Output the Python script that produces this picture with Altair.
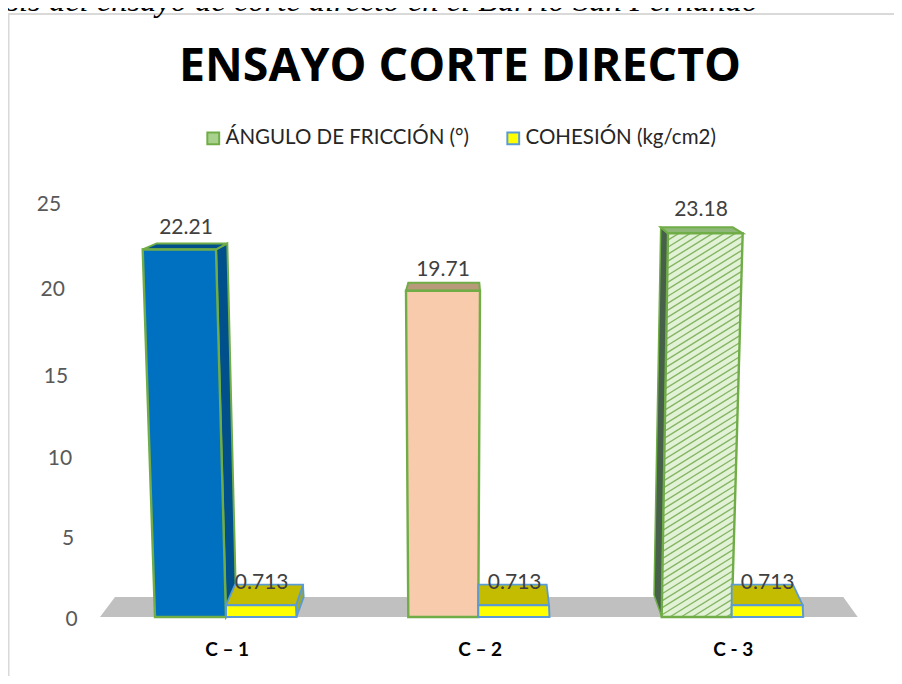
import altair as alt
import pandas as pd

# ---- chart values ----
categories = ["C – 1", "C – 2", "C - 3"]
friccion = [22.21, 19.71, 23.18]
cohesion = [0.713, 0.713, 0.713]
series = ["ÁNGULO DE FRICCIÓN (°)", "COHESIÓN (kg/cm2)"]
y_ticks = [25, 20, 15, 10, 5, 0]
title = "ENSAYO CORTE DIRECTO"
caption = "Análisis del ensayo de corte directo en el Barrio San Fernando"

# ---- layout ----
W, H = 886, 668
UX, UY = 253.0, 16.55
X0, Y0 = 226.7, 617.0
FONT = "Lato"


def xd(px):
    return 1 + (px - X0) / UX


def yd(py):
    return (Y0 - py) / UY


xs = alt.Scale(domain=[xd(8), xd(8 + W)], nice=False, zero=False)
ys = alt.Scale(domain=[yd(8 + H), yd(8)], nice=False, zero=False)
xe = alt.X("x:Q", scale=xs, title=None,
           axis=alt.Axis(values=[1, 2, 3], labelExpr="['C – 1','C – 2','C - 3'][datum.value-1]",
                         domain=False, ticks=False, grid=False, offset=-(H - 641), labelPadding=0,
                         labelBaseline="middle", labelFont=FONT, labelFontWeight="bold",
                         labelFontSize=19, labelColor="#000000", orient="bottom"))
ye = alt.Y("y:Q", scale=ys, axis=None)


def pt(i, dx, val, up=0.0):
    return {"x": i + 1 + dx / UX, "y": val + up / UY}


def poly(points, fill, stroke=None, sw=0.0, interpolate="linear-closed"):
    rows = [dict(p, o=k) for k, p in enumerate(points)]
    kw = {"stroke": stroke if stroke else fill, "strokeWidth": sw if stroke else 0.01}
    return alt.Chart(pd.DataFrame(rows)).mark_line(interpolate=interpolate, fill=fill, clip=False, **kw).encode(
        x=xe, y=ye, order="o:Q")


def hatch(i, val, tl, tr, bl, br, step=7.0, slope=0.62):
    """Diagonal hatch lines clipped to the front face of a bar."""
    top, bot = val * UY, 0.0
    segs = []
    c = -40.0
    left = lambda u: bl + (tl - bl) * u / top
    right = lambda u: br + (tr - br) * u / top
    while c < top + 90:
        def solve(edge):
            a, b = 0.0, top
            f = lambda u: c + slope * (edge(u) - bl) - u
            for _ in range(30):
                m = (a + b) / 2
                if f(a) * f(m) <= 0:
                    b = m
                else:
                    a = m
            return (a + b) / 2 if f(0) * f(top) <= 0 else None
        fl = c + slope * (left(0) - bl)
        ul = solve(left)
        if ul is None:
            pl = ((0 - c) / slope + bl, 0.0) if fl < 0 else None
        else:
            pl = (left(ul), ul)
        ur = solve(right)
        if ur is None:
            fr = c + slope * (right(top) - bl)
            pr = ((top - c) / slope + bl, top) if fr > top else None
        else:
            pr = (right(ur), ur)
        if pl and pr and pr[0] > pl[0] and pl[1] <= top and pr[1] >= 0:
            segs.append(dict(x=i + 1 + pl[0] / UX, y=pl[1] / UY, x2=i + 1 + pr[0] / UX, y2=pr[1] / UY))
        c += step
    return alt.Chart(pd.DataFrame(segs)).mark_rule(color="#86b564", strokeWidth=1.4).encode(
        x=xe, y=ye, x2="x2:Q", y2="y2:Q")


GREEN, BLUE = "#70ad47", "#5b9bd5"
layers = []

# legend carrier
leg = pd.DataFrame({"x": [1, 2], "y": [1, 1], "s": series})
layers.append(alt.Chart(leg).mark_square(opacity=0, size=1).encode(
    x=xe, y=ye,
    fill=alt.Fill("s:N", sort=series, scale=alt.Scale(domain=series, range=["#a9d18e", "#ffff00"]),
                  legend=alt.Legend(title=None, orient="none", legendX=195, legendY=120, direction="horizontal",
                                    columns=2, symbolType="square", symbolSize=140, symbolOpacity=1,
                                    symbolStrokeWidth=2, labelFont=FONT, labelFontSize=20.5, labelColor="#262626",
                                    columnPadding=33, labelOffset=2, labelLimit=300)),
    stroke=alt.Stroke("s:N", sort=series, scale=alt.Scale(domain=series, range=[GREEN, BLUE]), legend=None)))

# floor
layers.append(poly([dict(x=xd(100), y=0), dict(x=xd(115), y=yd(597)), dict(x=xd(843.3), y=yd(597)),
                    dict(x=xd(857.7), y=0)], "#c0c0c0"))

# C-1
i, v, c = 0, friccion[0], cohesion[0]
layers += [
    poly([pt(i, -10.7, v), pt(i, 0.6, v, 6), pt(i, 9.3, 0, 17), pt(i, -0.7, 0)], "#00508c", GREEN, 2),
    poly([pt(i, -84, v), pt(i, -70, v, 6), pt(i, 0.6, v, 6), pt(i, -10.7, v)], "#00508c", GREEN, 2),
    poly([pt(i, -84, v), pt(i, -10.7, v), pt(i, -0.7, 0), pt(i, -71.7, 0)], "#0070c0", GREEN, 2.4),
    poly([pt(i, 69.3, c), pt(i, 76.3, c, 20.5), pt(i, 77, 0, 20), pt(i, 69.8, 0)], "#9aa82e", BLUE, 1.8),
    poly([pt(i, -0.7, c), pt(i, 8.3, c, 20.5), pt(i, 76.3, c, 20.5), pt(i, 69.3, c)], "#c4bc00", BLUE, 1.8),
    poly([pt(i, -0.7, 0), pt(i, -0.7, c), pt(i, 69.3, c), pt(i, 69.8, 0)], "#ffff00", BLUE, 2),
]
# C-2
i, v, c = 1, friccion[1], cohesion[1]
layers += [
    poly([pt(i, -73.7, v), pt(i, -71.4, v, 8), pt(i, -0.4, v, 8), pt(i, 0.3, v)], "#b89a7a", GREEN, 2),
    poly([pt(i, -73.7, v), pt(i, 0.3, v), pt(i, -1.4, 0), pt(i, -71.4, 0)], "#f8cbad", GREEN, 2.4),
    poly([pt(i, -1.4, c), pt(i, -1.4, c, 20.5), pt(i, 67, c, 20.5), pt(i, 69.3, c)], "#c4bc00", BLUE, 1.8),
    poly([pt(i, -1.4, 0), pt(i, -1.4, c), pt(i, 69.3, c), pt(i, 69.8, 0)], "#ffff00", BLUE, 2),
]
# C-3
i, v, c = 2, friccion[2], cohesion[2]
layers += [
    poly([pt(i, -72, v, 6), pt(i, -64.7, v), pt(i, -71, 0), pt(i, -78.7, 0, 22)], "#46604a", GREEN, 1.5),
    poly([pt(i, -64.7, v), pt(i, -72, v, 6), pt(i, 0, v, 6), pt(i, 10, v)], "#8fb878", GREEN, 2),
    poly([pt(i, -64.7, v), pt(i, 10, v), pt(i, -1, 0), pt(i, -71, 0)], "#e2f2d6"),
    hatch(i, v, -64.7, 10, -71, -1),
    poly([pt(i, -64.7, v), pt(i, 10, v), pt(i, -1, 0), pt(i, -71, 0)], "#e2f2d6", GREEN, 2).mark_line(
        interpolate="linear-closed", fill=None, stroke=GREEN, strokeWidth=2.4),
    poly([pt(i, -1, c), pt(i, -1, c, 20.5), pt(i, 60.3, c, 20.5), pt(i, 70, c)], "#c4bc00", BLUE, 1.8),
    poly([pt(i, -1, 0), pt(i, -1, c), pt(i, 70, c), pt(i, 70.5, 0)], "#ffff00", BLUE, 2),
]

# data labels
label_dx_f, label_up_f = [-40.7, -36.7, -31.7], [21, 21, 23]
rows = []
for k in range(3):
    rows.append(dict(x=k + 1 + label_dx_f[k] / UX, y=friccion[k] + label_up_f[k] / UY, t=f"{friccion[k]:.2f}"))
    rows.append(dict(x=k + 1 + 35 / UX, y=cohesion[k] + 22 / UY, t=f"{cohesion[k]:.3f}"))
layers.append(alt.Chart(pd.DataFrame(rows)).mark_text(font=FONT, fontSize=21, color="#404040", baseline="middle").encode(
    x=xe, y=ye, text="t:N"))

# value-axis labels follow the perspective of the 3-D box
tick_x = [49, 52.7, 56, 60, 68, 71.7]
tick_shift = [2, 4, 8, 7, 5, 3]
for t, px, sh in zip(y_ticks, tick_x, tick_shift):
    layers.append(alt.Chart(pd.DataFrame({"x": [xd(px)], "y": [t - sh / UY], "t": [str(t)]})).mark_text(
        font=FONT, fontSize=21, color="#595959", baseline="middle").encode(x=xe, y=ye, text="t:N"))

# hatch inside the first legend swatch
for a, b, c_, d in [(200, 207, 135, 124), (203, 210, 134, 126)]:
    layers.append(alt.Chart(pd.DataFrame({"a": [0]})).mark_rule(color="#ffffff", strokeWidth=1.5).encode(
        x=alt.value(a), x2=alt.value(b), y=alt.value(c_), y2=alt.value(d)))

# frame, clipped caption and chart title
layers.append(alt.Chart(pd.DataFrame({"a": [0]})).mark_rule(color="#d9d9d9", strokeWidth=2).encode(
    x=alt.value(0), x2=alt.value(W), y=alt.value(6)))
layers.append(alt.Chart(pd.DataFrame({"a": [0]})).mark_rule(color="#d9d9d9", strokeWidth=2).encode(
    x=alt.value(0.5), y=alt.value(6), y2=alt.value(H)))
layers.append(alt.Chart(pd.DataFrame({"t": [caption]})).mark_text(
    font="Liberation Serif", fontStyle="italic", fontSize=32.5, align="right", baseline="alphabetic", color="#000000"
).encode(x=alt.value(750), y=alt.value(3), text="t:N"))
layers.append(alt.Chart(pd.DataFrame({"t": [title]})).mark_text(
    font="Open Sans", fontWeight="bold", fontSize=46.5, align="center", baseline="alphabetic", color="#000000"
).encode(x=alt.value(452), y=alt.value(73), text="t:N"))

chart = alt.layer(*layers).properties(
    width=W, height=H, padding=0,
    autosize=alt.AutoSizeParams(type="none", contains="padding"),
).configure_view(stroke=None).resolve_scale(fill="shared", stroke="shared")

chart.save("out.html", embed_options={"renderer": "svg", "actions": False})
